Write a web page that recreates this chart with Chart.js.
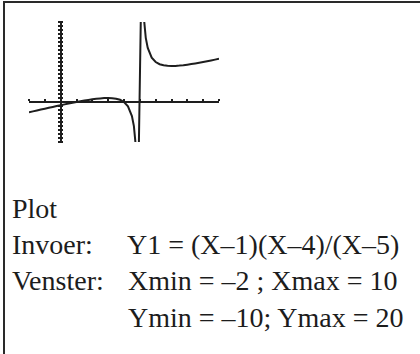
<!DOCTYPE html>
<html>
<head>
<meta charset="utf-8">
<script src="https://cdn.jsdelivr.net/npm/chart.js@4/dist/chart.umd.min.js"></script>
<style>
  html, body { margin: 0; padding: 0; background: #fff; }
  body { width: 420px; height: 354px; position: relative; overflow: hidden;
         font-family: "Liberation Serif", "DejaVu Serif", serif; color: #1c1c1c; }
  #frame { position: absolute; left: 3px; top: 1px; width: 430px; height: 370px;
           border-top: 2px solid #2a2a2a; border-left: 2px solid #2a2a2a; }
  #plot { position: absolute; left: 0; top: 0; }
  .txt { position: absolute; font-size: 28px; line-height: 28px; white-space: pre; }
</style>
</head>
<body>
<div id="frame"></div>
<canvas id="plot" width="240" height="150"></canvas>

<div class="txt" style="left:12px; top:195px;">Plot</div>
<div class="txt" style="left:12px; top:231px;">Invoer:</div>
<div class="txt" style="left:127px; top:231px;">Y1 = (X–1)(X–4)/(X–5)</div>
<div class="txt" style="left:12px; top:267px;">Venster:</div>
<div class="txt" style="left:128px; top:267px;">Xmin = –2 ; Xmax = 10</div>
<div class="txt" style="left:128px; top:304px;">Ymin = –10; Ymax = 20</div>

<script>
// venster van de rekenmachine
const xMin = -2, xMax = 10;
const yMin = -10, yMax = 20;

const xValues = [
  -2, -1.75, -1.5, -1.25, -1, -0.75, -0.5, -0.25, 0, 0.25, 0.5, 0.75,
  1, 1.25, 1.5, 1.75, 2, 2.25, 2.5, 2.75, 3, 3.25, 3.5, 3.75,
  4, 4.25, 4.5, 4.625, 4.75, 4.875,
  5.125, 5.25, 5.375, 5.5, 5.75, 6, 6.25, 6.5, 6.75, 7, 7.25, 7.5, 7.75,
  8, 8.25, 8.5, 8.75, 9, 9.25, 9.5, 9.75, 10
];
const yValues = [
  -2.57, -2.34, -2.12, -1.89, -1.67, -1.45, -1.23, -1.01, -0.8, -0.59, -0.39, -0.19,
  0, 0.18, 0.36, 0.52, 0.67, 0.8, 0.9, 0.97, 1, 0.96, 0.83, 0.55,
  0, -1.08, -3.5, -6.04, -11.25, -27.1,
  37.1, 21.25, 16.04, 13.5, 11.08, 10, 9.45, 9.17, 9.04, 9, 9.03, 9.1, 9.2,
  9.33, 9.48, 9.64, 9.82, 10, 10.19, 10.39, 10.59, 10.8
];

// assen met streepjes (Xscl = 1, Yscl = 1)
const calcAxes = {
  id: 'calcAxes',
  beforeDatasetsDraw(chart) {
    const { ctx, chartArea: a, scales: { x, y } } = chart;
    const x0 = Math.round(x.getPixelForValue(0));
    const y0 = Math.round(y.getPixelForValue(0));
    ctx.save();
    ctx.fillStyle = '#1e1e1e';
    ctx.fillRect(a.left, y0 - 1, a.right - a.left, 2);
    ctx.fillRect(x0 - 1, a.top, 2, a.bottom - a.top);
    for (let i = xMin; i <= xMax; i++) {
      if (i === 0) continue;
      const px = Math.round(x.getPixelForValue(i));
      ctx.fillRect(px - 1, y0 - 3, 2, 2);
    }
    for (let j = yMin; j <= yMax; j++) {
      if (j === 0) continue;
      const py = Math.round(y.getPixelForValue(j));
      ctx.fillRect(x0 - 3, py - 1, 5, 2);
    }
    ctx.restore();
  }
};

new Chart(document.getElementById('plot'), {
  type: 'scatter',
  data: {
    datasets: [{
      data: xValues.map((v, i) => ({ x: v, y: yValues[i] })),
      showLine: true,
      borderColor: '#1e1e1e',
      borderWidth: 2,
      pointRadius: 0,
      tension: 0
    }]
  },
  options: {
    responsive: false,
    animation: false,
    events: [],
    layout: { padding: { left: 29, right: 21, top: 22, bottom: 8 } },
    plugins: { legend: { display: false }, tooltip: { enabled: false } },
    scales: {
      x: { type: 'linear', min: xMin, max: xMax, display: false },
      y: { type: 'linear', min: yMin, max: yMax, display: false }
    }
  },
  plugins: [calcAxes]
});
</script>
</body>
</html>
